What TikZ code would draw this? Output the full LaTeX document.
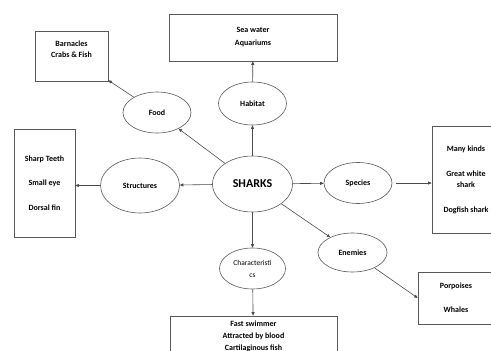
\documentclass[tikz,border=0pt]{standalone}
\usepackage{fontspec}
\setmainfont{Carlito}
\usepackage{tikz}
\usetikzlibrary{shapes.geometric, arrows.meta}

\begin{document}
\begin{tikzpicture}[x=1pt,y=-1pt,
  topic/.style={draw=black!65, line width=0.6pt, ellipse, inner sep=0pt, font=\fontsize{8}{10}\selectfont\bfseries},
  box/.style={draw=black!65, line width=0.6pt, rectangle, inner sep=0pt, align=center, font=\fontsize{8}{11}\selectfont\bfseries},
  boxtext/.style={align=center, inner sep=0pt},
  arr/.style={draw=black!70, line width=0.6pt, -{Triangle[length=3.5pt,width=3pt]}}]
\fill[white] (0,0) rectangle (491,351);
\clip (0,0) rectangle (491,351);

% centre
\node[topic, minimum width=80, minimum height=56, font=\fontsize{12}{14}\selectfont\bfseries] (sharks) at (252.5,184) {SHARKS};

% Habitat
\node[topic, minimum width=68, minimum height=43] (habitat) at (252.5,103.5) {Habitat};
\node[box, minimum width=168, minimum height=47, font=\fontsize{8}{10}\selectfont\bfseries] (seabox) at (253,37.5) {Sea water\\[3pt]Aquariums};

% Food
\node[topic, minimum width=68, minimum height=41] (food) at (157,112.5) {Food};
\node[box, minimum width=73, minimum height=50] (barnbox) at (71.5,56) {};
\node[boxtext, font=\fontsize{8}{11}\selectfont\bfseries] (barntxt) at (71.5,49.5) {Barnacles\\Crabs \& Fish};

% Structures
\node[topic, minimum width=79, minimum height=55] (struct) at (140,185.5) {Structures};
\node[box, minimum width=61, minimum height=108] (teethbox) at (44.5,183) {Sharp Teeth\\[13.5pt]Small eye\\[13.5pt]Dorsal fin};

% Species
\node[topic, minimum width=68, minimum height=41] (species) at (358,183) {Species};
\node[box, minimum width=68, minimum height=107] (kindsbox) at (466,179.5) {Many kinds\\[14pt]Great white\\shark\\[14pt]Dogfish shark};

% Enemies
\node[topic, minimum width=69, minimum height=39] (enemies) at (352.5,252.5) {Enemies};
\node[box, minimum width=76, minimum height=52] (porpbox) at (456,298) {Porpoises\\[13pt]Whales};

% Characteristics
\node[topic, minimum width=66, minimum height=41, align=center, font=\fontsize{7.5}{12}\selectfont] (charac) at (252.5,268.5) {Characteristi\\cs};
\node[box, minimum width=167, minimum height=64] (bottombox) at (253.5,348) {};
\node[boxtext, font=\fontsize{8}{12}\selectfont\bfseries] (bottomtxt) at (253.5,336) {Fast swimmer\\Attracted by blood\\Cartilaginous fish};

% connectors
\draw[arr] (sharks) -- (habitat);
\draw[arr] (habitat) -- (seabox);
\draw[arr] (sharks) -- (food);
\draw[arr] (food) -- (barnbox);
\draw[arr] (sharks) -- (struct);
\draw[arr] (struct) -- (struct.west -| teethbox.east);
\draw[arr] (sharks) -- (species);
\draw[arr, shorten <=4pt] (species) -- (species -| kindsbox.west);
\draw[arr] (sharks) -- (enemies);
\draw[arr] (enemies) -- (porpbox.west);
\draw[arr] (sharks) -- (charac);
\draw[arr] (charac) -- (bottombox);
\end{tikzpicture}
\end{document}
